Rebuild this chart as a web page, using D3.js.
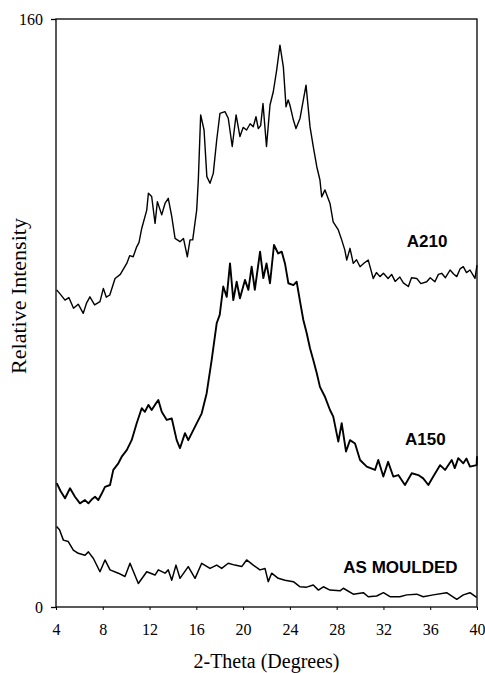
<!DOCTYPE html>
<html>
<head>
<meta charset="utf-8">
<script src="https://cdn.jsdelivr.net/npm/d3@7"></script>
<style>
  html, body { margin: 0; padding: 0; background: #fff; }
  svg { display: block; }
</style>
</head>
<body>
<svg id="chart" width="485" height="673"></svg>
<script>
// X-ray diffraction traces: [2-theta (degrees), relative intensity]
const a210 = [[4.05,86.3],[4.4,85],[4.77,83.5],[5.1,84.2],[5.5,81.3],[5.9,82.4],[6.33,79.9],[6.6,82.6],[6.9,84.4],[7.3,82.2],[7.76,83.1],[8.05,86.7],[8.3,84.3],[8.6,84.9],[9.05,89.4],[9.5,90.5],[10.05,93.5],[10.3,95.6],[10.6,95.3],[10.9,98],[11.1,99.2],[11.33,103],[11.76,108],[11.9,112.6],[12.18,111.7],[12.47,104.4],[12.67,110.3],[13.04,106.7],[13.32,109.8],[13.6,111.2],[13.9,106.2],[14.18,100.3],[14.6,99.4],[14.9,100.3],[15.23,95.3],[15.46,99.9],[15.69,99.9],[16.03,108],[16.17,116.2],[16.37,133.9],[16.66,129.8],[16.9,117.1],[17.17,115.3],[17.45,118],[17.74,127],[18.02,134.3],[18.45,134.8],[18.73,133],[19.07,125.3],[19.4,133.9],[19.73,128],[20.0,130.5],[20.3,129.8],[20.6,131.5],[20.87,130.7],[21.1,133.4],[21.3,130.2],[21.5,131],[21.7,137],[22.0,125.3],[22.3,136.6],[22.58,140.2],[22.87,146.1],[23.15,152.9],[23.44,147],[23.67,136.1],[23.85,138],[24.0,136.6],[24.3,132.5],[24.52,130.2],[24.87,133],[25.15,138],[25.38,142],[25.72,130.7],[26.0,125.3],[26.3,119.8],[26.57,116.2],[26.72,111.6],[27.0,113.5],[27.43,109.8],[27.7,104.8],[28.14,102.6],[28.43,99.9],[28.7,97.1],[28.86,94.4],[29.14,97.6],[29.42,93.5],[29.7,94.5],[30.0,92.6],[30.35,93.6],[30.7,94.4],[31.13,89.4],[31.4,91],[31.7,89.9],[32.0,90.8],[32.4,89.4],[32.7,90.5],[33.0,88.6],[33.4,89.8],[33.7,88.2],[34.13,87.2],[34.4,89.6],[34.85,89.4],[35.2,88],[35.7,88.5],[36.0,89.6],[36.4,88.5],[36.7,90.5],[36.98,90.8],[37.3,89.6],[37.7,91.7],[38.0,90.6],[38.27,89.9],[38.55,92],[38.83,92.6],[39.1,91],[39.4,91.7],[39.83,89.4],[40,93]];

const a150 = [[4.06,33.7],[4.4,31.5],[4.77,29.6],[5.2,32.3],[5.62,30],[6.05,28.2],[6.48,29.1],[6.77,28.2],[7.1,29.4],[7.34,30],[7.62,29.1],[7.9,30.8],[8.19,32.7],[8.62,33.2],[8.9,37.3],[9.33,39.1],[9.62,40.9],[10.05,42.7],[10.47,45.4],[10.9,50],[11.33,54.1],[11.6,53.1],[11.9,55],[12.18,53.6],[12.5,55.2],[12.75,56.3],[13.04,53.1],[13.47,50.9],[13.9,51.3],[14.32,45.4],[14.6,43.2],[15.03,47.3],[15.31,45.4],[15.89,49.1],[16.46,52.7],[16.88,58.1],[17.31,67.2],[17.74,77.2],[18.0,79.5],[18.3,87.2],[18.6,84.4],[18.88,93.5],[19.16,83.5],[19.45,88.5],[19.73,84],[20.16,89],[20.45,86.3],[20.73,92.6],[21.0,86.3],[21.45,96.7],[21.73,89.5],[22.0,93.5],[22.3,88.1],[22.64,98.5],[23.0,96.2],[23.3,96.7],[23.58,93.5],[23.87,88.1],[24.3,87.6],[24.58,88.5],[24.87,83.1],[25.15,78.1],[25.44,74.5],[25.72,70.4],[26.0,67.2],[26.3,63.6],[26.57,59.9],[27.0,57.2],[27.43,53.6],[27.71,51.8],[28.14,45],[28.43,50],[28.8,42.3],[29.14,45.4],[29.57,44.5],[30.0,40],[30.57,38.2],[31.28,37.3],[31.56,40],[31.99,35.5],[32.4,39.5],[32.84,35.5],[33.27,35.9],[33.84,33.2],[34.42,36.4],[34.98,35.9],[35.4,35],[35.84,33.2],[36.26,35.5],[36.84,38.6],[37.27,37.3],[37.84,40],[38.1,37.8],[38.4,40.5],[38.83,39.1],[39.1,40.4],[39.4,38.2],[39.97,38.6],[40,41]];

const asMoulded = [[4.05,21.9],[4.3,21],[4.63,18.2],[5.05,17.8],[5.48,15.5],[5.9,14.6],[6.48,14.1],[6.77,15],[7.2,13.2],[7.76,9.6],[8.19,12.8],[8.62,10.1],[9.33,9.2],[9.9,8.3],[10.33,11.9],[11.04,6.4],[11.76,9.6],[12.47,8.7],[12.75,10.1],[13.32,9.2],[13.6,10.1],[13.9,7.3],[14.26,11.4],[14.6,7.8],[15.31,11],[15.89,7.8],[16.46,11.9],[17.17,10.5],[17.74,11.4],[18.17,10.5],[18.73,11.9],[19.3,11.4],[19.88,11],[20.3,12.8],[20.87,11.4],[21.44,10.1],[21.87,10.5],[22.15,6.9],[22.44,9.2],[23.0,7.8],[23.58,7.3],[24.3,6.9],[24.87,5.5],[25.44,5.4],[26.0,6],[26.44,4.6],[26.86,5.5],[27.43,4.6],[28.29,4.4],[28.57,5.1],[29.42,3.5],[30.28,3.9],[30.7,2.8],[31.42,3],[32.0,3.9],[32.56,2.8],[33.4,2.8],[34.0,3.3],[34.85,3.5],[35.4,2.8],[36.26,3.3],[37.4,3.9],[38.27,2.1],[38.83,3.3],[39.4,3.9],[39.97,2.6]];

const seriesNames = ["A210", "A150", "AS MOULDED"];
const xTicks = [4, 8, 12, 16, 20, 24, 28, 32, 36, 40];
const yTicks = [0, 160];

const svg = d3.select("#chart");
const margin = { left: 56, top: 19, right: 8, bottom: 66 };
const W = 485, H = 673;

const x = d3.scaleLinear().domain([4, 40]).range([margin.left, W - margin.right]);
const y = d3.scaleLinear().domain([0, 160]).range([H - margin.bottom, margin.top]);

const serif = "'Liberation Serif', 'Times New Roman', serif";
const sans = "'Liberation Sans', Arial, sans-serif";

// plot frame
svg.append("rect")
  .attr("x", x(4)).attr("y", y(160))
  .attr("width", x(40) - x(4)).attr("height", y(0) - y(160))
  .attr("fill", "none").attr("stroke", "#000").attr("stroke-width", 1.3);

// x axis
const gx = svg.append("g")
  .attr("transform", `translate(0,${y(0)})`)
  .call(d3.axisBottom(x).tickValues(xTicks).tickSize(3).tickPadding(14).tickFormat(d3.format("d")));
gx.select(".domain").remove();
gx.selectAll("line").attr("stroke", "#000").attr("stroke-width", 1);
gx.selectAll("text").attr("font-family", serif).attr("font-size", 16).attr("fill", "#000");

// y axis
const gy = svg.append("g")
  .attr("transform", `translate(${x(4)},0)`)
  .call(d3.axisLeft(y).tickValues(yTicks).tickSize(5).tickPadding(8).tickFormat(d3.format("d")));
gy.select(".domain").remove();
gy.selectAll("line").attr("stroke", "#000").attr("stroke-width", 1.3);
gy.selectAll("text").attr("font-family", serif).attr("font-size", 16).attr("fill", "#000");

// axis titles
svg.append("text")
  .attr("x", (x(4) + x(40)) / 2).attr("y", 668)
  .attr("text-anchor", "middle")
  .attr("font-family", serif).attr("font-size", 20)
  .text("2-Theta (Degrees)");

svg.append("text")
  .attr("transform", `translate(26,296) rotate(-90)`)
  .attr("text-anchor", "middle")
  .attr("font-family", serif).attr("font-size", 22)
  .text("Relative Intensity");

// traces
const line = d3.line().x(d => x(d[0])).y(d => y(d[1]));
const traces = [
  { data: a210, width: 1.4 },
  { data: a150, width: 1.9 },
  { data: asMoulded, width: 1.5 }
];
svg.append("g").selectAll("path")
  .data(traces)
  .join("path")
  .attr("d", d => line(d.data))
  .attr("fill", "none")
  .attr("stroke", "#000")
  .attr("stroke-width", d => d.width)
  .attr("stroke-linejoin", "round");

// trace labels
const labelPos = [
  { name: seriesNames[0], at: [34.0, 98] },
  { name: seriesNames[1], at: [33.85, 44] },
  { name: seriesNames[2], at: [28.57, 9.2] }
];
svg.append("g").selectAll("text")
  .data(labelPos)
  .join("text")
  .attr("x", d => x(d.at[0]))
  .attr("y", d => y(d.at[1]))
  .attr("font-family", sans).attr("font-weight", "bold").attr("font-size", 17)
  .attr("fill", "#000")
  .text(d => d.name);
</script>
</body>
</html>
